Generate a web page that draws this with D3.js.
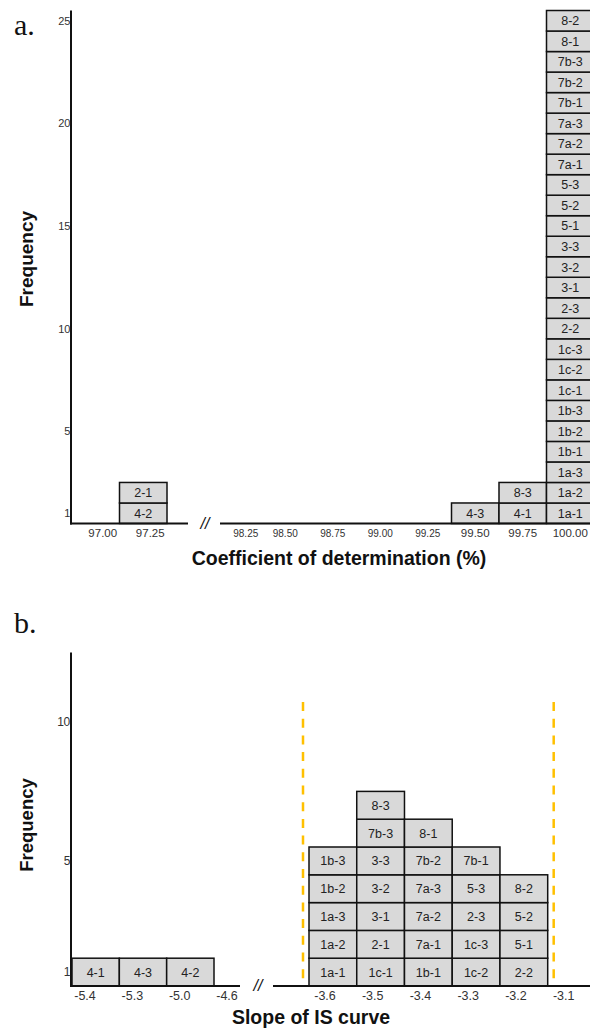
<!DOCTYPE html>
<html>
<head>
<meta charset="utf-8">
<script src="https://cdn.jsdelivr.net/npm/d3@7"></script>
<style>
  html, body { margin: 0; padding: 0; background: #fff; }
  svg { display: block; }
</style>
</head>
<body>
<script>
// ---------- DATA ----------
// Panel a: coefficient of determination (%) bins (bin centres)
const aBinsLeft  = ["97.00", "97.25"];
const aBinsRight = ["98.25", "98.50", "98.75", "99.00", "99.25", "99.50", "99.75", "100.00"];
const aCells9725  = ["4-2", "2-1"];
const aCells9950  = ["4-3"];
const aCells9975  = ["4-1", "8-3"];
const aCells10000 = ["1a-1","1a-2","1a-3","1b-1","1b-2","1b-3","1c-1","1c-2","1c-3",
                     "2-2","2-3","3-1","3-2","3-3","5-1","5-2","5-3",
                     "7a-1","7a-2","7a-3","7b-1","7b-2","7b-3","8-1","8-2"];
const aYTicks = [1, 5, 10, 15, 20, 25];
const aYMax = 25;

// Panel b: slope of IS curve (bin edges)
const bEdgesLeft  = ["-5.4", "-5.3", "-5.0", "-4.6"];
const bEdgesRight = ["-3.6", "-3.5", "-3.4", "-3.3", "-3.2", "-3.1"];
const bCellsL0 = ["4-1"];
const bCellsL1 = ["4-3"];
const bCellsL2 = ["4-2"];
const bCellsR0 = ["1a-1","1a-2","1a-3","1b-2","1b-3"];
const bCellsR1 = ["1c-1","2-1","3-1","3-2","3-3","7b-3","8-3"];
const bCellsR2 = ["1b-1","7a-1","7a-2","7a-3","7b-2","8-1"];
const bCellsR3 = ["1c-2","1c-3","2-3","5-3","7b-1"];
const bCellsR4 = ["2-2","5-1","5-2","8-2"];
const bYTicks = [1, 5, 10];
const bYMax = 12;

// ---------- DRAW ----------
const W = 590, H = 1029;
const svg = d3.select("body").append("svg").attr("width", W).attr("height", H);
svg.append("rect").attr("width", W).attr("height", H).attr("fill", "#fff");

const FONT = "'Liberation Sans', Arial, sans-serif";
const CELL_FILL = "#d9d9d9";

function drawCells(g, x0, w, cells, y, fs) {
  cells.forEach((lab, k) => {
    g.append("rect")
      .attr("x", x0).attr("y", y(k + 1))
      .attr("width", w).attr("height", y(k) - y(k + 1))
      .attr("fill", CELL_FILL).attr("stroke", "#111").attr("stroke-width", 1.5);
    g.append("text")
      .attr("x", x0 + w / 2).attr("y", (y(k) + y(k + 1)) / 2)
      .attr("dy", "0.36em").attr("text-anchor", "middle")
      .attr("font-family", FONT).attr("font-size", fs).attr("fill", "#222")
      .text(lab);
  });
}

function yAxis(g, y, ticks, axisX, fs) {
  g.append("line").attr("x1", axisX).attr("x2", axisX)
    .attr("y1", y.range()[0] + 1).attr("y2", y.range()[1])
    .attr("stroke", "#111").attr("stroke-width", 2);
  ticks.forEach(v => {
    g.append("text").attr("x", axisX - 1).attr("y", y(v - 0.5)).attr("dy", "0.36em")
      .attr("text-anchor", "end").attr("font-family", FONT).attr("font-size", fs)
      .attr("fill", "#333").attr("letter-spacing", -0.3).text(v);
  });
}

function hLine(g, x1, x2, yy) {
  g.append("line").attr("x1", x1).attr("x2", x2).attr("y1", yy).attr("y2", yy)
    .attr("stroke", "#111").attr("stroke-width", 2);
}

function breakMark(g, cx, yy) {
  g.append("text").attr("x", cx).attr("y", yy).attr("dy", "0.36em")
    .attr("text-anchor", "middle").attr("font-family", FONT).attr("font-size", 16)
    .attr("font-style", "italic").attr("fill", "#111").text("//");
}

// ===== Panel a =====
const ga = svg.append("g");
const yA = d3.scaleLinear().domain([0, aYMax]).range([523.5, 10.5]);
const xAL = d3.scaleBand().domain(aBinsLeft).range([72, 167]).padding(0);
const xAR = d3.scaleBand().domain(aBinsRight).range([214, 594]).padding(0);

const aStacks = [
  [xAL, "97.25", aCells9725],
  [xAR, "99.50", aCells9950],
  [xAR, "99.75", aCells9975],
  [xAR, "100.00", aCells10000]
];
aStacks.forEach(([sc, key, cells]) => drawCells(ga, sc(key), sc.bandwidth(), cells, yA, 12.5));

yAxis(ga, yA, aYTicks, 71, 11);
hLine(ga, 70, 188, 523.5);
hLine(ga, 220, 590, 523.5);
breakMark(ga, 205, 523.5);

aBinsLeft.forEach(b => {
  ga.append("text").attr("x", xAL(b) + xAL.bandwidth() / 2 + 7).attr("y", 536.5)
    .attr("text-anchor", "middle").attr("font-family", FONT).attr("font-size", 11.5)
    .attr("fill", "#333").text(b);
});
aBinsRight.forEach((b, i) => {
  const small = i < 5;
  ga.append("text").attr("x", xAR(b) + xAR.bandwidth() / 2 + (i === 0 ? 8 : 0)).attr("y", 536.5)
    .attr("text-anchor", "middle").attr("font-family", FONT)
    .attr("font-size", small ? 10 : 11.5).attr("fill", "#333").text(b);
});

ga.append("text").attr("x", 339).attr("y", 565).attr("text-anchor", "middle")
  .attr("font-family", FONT).attr("font-weight", "bold").attr("font-size", 19.5)
  .attr("fill", "#111").text("Coefficient of determination (%)");

ga.append("text").attr("transform", "translate(33,259) rotate(-90)")
  .attr("text-anchor", "middle").attr("font-family", FONT).attr("font-weight", "bold")
  .attr("font-size", 19).attr("fill", "#111").text("Frequency");

ga.append("text").attr("x", 14).attr("y", 35)
  .attr("font-family", "'Liberation Serif', 'Times New Roman', serif")
  .attr("font-size", 30).attr("fill", "#111").text("a.");

// ===== Panel b =====
const gb = svg.append("g");
const yB = d3.scaleLinear().domain([0, bYMax]).range([986, 652.4]);
const xBL = d3.scalePoint().domain(bEdgesLeft).range([72, 214]);
const xBR = d3.scalePoint().domain(bEdgesRight).range([309, 547.7]);

const bLeftStacks = [bCellsL0, bCellsL1, bCellsL2];
bLeftStacks.forEach((cells, i) => {
  const x0 = xBL(bEdgesLeft[i]), x1 = xBL(bEdgesLeft[i + 1]);
  drawCells(gb, x0, x1 - x0, cells, yB, 12.5);
});
const bRightStacks = [bCellsR0, bCellsR1, bCellsR2, bCellsR3, bCellsR4];
bRightStacks.forEach((cells, i) => {
  const x0 = xBR(bEdgesRight[i]), x1 = xBR(bEdgesRight[i + 1]);
  drawCells(gb, x0, x1 - x0, cells, yB, 12.5);
});

// dashed threshold lines just outside the main cluster
const dashL = xBR(bEdgesRight[0]) - 6;
const dashR = xBR(bEdgesRight[bEdgesRight.length - 1]) + 6;
[dashL, dashR].forEach(xx => {
  gb.append("line").attr("x1", xx).attr("x2", xx).attr("y1", 702).attr("y2", 985)
    .attr("stroke", "#FFC000").attr("stroke-width", 2.5).attr("stroke-dasharray", "9,7.7");
});

yAxis(gb, yB, bYTicks, 71, 12);
hLine(gb, 70, 240, 986);
hLine(gb, 273, 590, 986);
breakMark(gb, 258, 985);

bEdgesLeft.forEach(e => {
  gb.append("text").attr("x", xBL(e) + 13).attr("y", 1000).attr("text-anchor", "middle")
    .attr("font-family", FONT).attr("font-size", 12.5).attr("fill", "#333").text(e);
});
bEdgesRight.forEach(e => {
  gb.append("text").attr("x", xBR(e) + 16).attr("y", 1000).attr("text-anchor", "middle")
    .attr("font-family", FONT).attr("font-size", 12.5).attr("fill", "#333").text(e);
});

gb.append("text").attr("x", 311).attr("y", 1024).attr("text-anchor", "middle")
  .attr("font-family", FONT).attr("font-weight", "bold").attr("font-size", 19.5)
  .attr("fill", "#111").text("Slope of IS curve");

gb.append("text").attr("transform", "translate(33,825) rotate(-90)")
  .attr("text-anchor", "middle").attr("font-family", FONT).attr("font-weight", "bold")
  .attr("font-size", 18.5).attr("fill", "#111").text("Frequency");

gb.append("text").attr("x", 14).attr("y", 633)
  .attr("font-family", "'Liberation Serif', 'Times New Roman', serif")
  .attr("font-size", 30).attr("fill", "#111").text("b.");
</script>
</body>
</html>
